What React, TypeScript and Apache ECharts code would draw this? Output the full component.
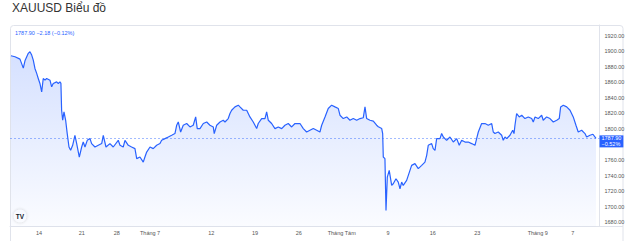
import React, { useEffect, useRef } from "react";
import * as echarts from "echarts";

// Trading-day index counted from Mon 14 June (weekends removed)
const tradingDay = [
  -3.2, -2.74, -2.17, -1.79, -1.6, -1.22, -1.03, -0.83, -0.65, -0.46, -0.26, -0.08, 0.11, 0.31, 0.49, 0.69, 0.88, 1.26, 1.45, 1.63,
  2.02, 2.21, 2.4, 2.51, 2.59, 2.71, 2.86, 3.05, 3.23, 3.43, 3.62, 3.85, 4.11, 4.31, 4.61, 4.88, 5.06, 5.26, 5.52, 5.83,
  6.02, 6.4, 6.78, 7.17, 7.35, 7.66, 8.11, 8.49, 9.06, 9.26, 9.63, 9.83, 10.21, 10.59, 10.97, 11.17, 11.54, 11.92, 12.11, 12.31,
  12.69, 13.06, 13.45, 13.83, 14.02, 14.4, 14.78, 15.17, 15.54, 15.74, 15.92, 16.19, 16.49, 16.88, 17.26, 17.63, 17.91, 18.09, 18.4, 18.78,
  19.17, 19.54, 19.92, 20.03, 20.31, 20.69, 21.06, 21.26, 21.63, 21.83, 22.02, 22.4, 22.78, 22.97, 23.35, 23.74, 24.11, 24.49, 24.88, 25.06,
  25.45, 25.83, 26.02, 26.21, 26.59, 26.97, 27.35, 27.74, 28.11, 28.49, 28.88, 29.26, 29.83, 30.21, 30.59, 30.97, 31.35, 31.74, 32.11, 32.31,
  32.69, 33.06, 33.45, 33.83, 34.21, 34.4, 34.78, 35.17, 35.54, 35.92, 36.31, 36.69, 37.06, 37.26, 37.45, 37.83, 38.21, 38.59, 38.78, 39.17,
  39.28, 39.35, 39.54, 39.66, 39.81, 40.03, 40.31, 40.49, 40.8, 41.06, 41.26, 41.45, 41.63, 42.02, 42.4, 42.59, 42.97, 43.35, 43.74, 44.11,
  44.31, 44.49, 44.88, 45.06, 45.26, 45.45, 45.83, 46.02, 46.21, 46.59, 46.97, 47.35, 47.74, 48.03, 48.31, 48.69, 49.06, 49.45, 49.83, 50.02,
  50.21, 50.59, 50.97, 51.35, 51.74, 51.92, 52.11, 52.49, 52.88, 53.06, 53.26, 53.45, 53.83, 54.14, 54.29, 54.4, 54.59, 54.89, 55.17, 55.54,
  55.92, 56.31, 56.49, 56.69, 57.06, 57.45, 57.63, 58.02, 58.4, 58.78, 59.17, 59.46, 59.62, 59.92, 60.31, 60.69, 61.06, 61.37, 61.63, 62.02,
  62.4, 62.59, 62.97, 63.31, 63.66,
];

const price = [
  1894.2, 1892.9, 1889.9, 1878.3, 1887.7, 1897.3, 1899.4, 1895.1, 1888.6, 1877.9, 1871.5, 1865.0, 1858.6, 1847.7, 1865.0, 1862.8, 1865.0, 1862.8, 1854.2, 1858.6,
  1860.6, 1858.6, 1860.6, 1858.6, 1824.1, 1811.2, 1821.9, 1811.2, 1794.1, 1776.8, 1772.5, 1779.0, 1791.9, 1781.2, 1763.9, 1776.8, 1783.2, 1776.8, 1785.4, 1787.6,
  1781.2, 1776.8, 1779.0, 1781.2, 1791.9, 1776.8, 1781.2, 1776.8, 1785.4, 1779.0, 1776.8, 1785.4, 1779.0, 1776.8, 1774.7, 1761.8, 1763.9, 1757.4, 1763.9, 1770.3,
  1776.8, 1774.7, 1779.0, 1781.2, 1785.4, 1787.6, 1789.7, 1791.9, 1794.1, 1804.8, 1809.0, 1796.1, 1804.8, 1807.0, 1802.6, 1804.8, 1815.5, 1800.5, 1800.5, 1807.0,
  1809.0, 1804.8, 1802.6, 1794.1, 1804.8, 1809.0, 1811.2, 1809.0, 1813.4, 1819.9, 1824.1, 1828.4, 1830.6, 1828.4, 1824.1, 1824.1, 1815.5, 1809.0, 1800.5, 1807.0,
  1813.4, 1813.4, 1821.9, 1811.2, 1807.0, 1800.5, 1802.6, 1800.5, 1804.8, 1807.0, 1802.6, 1807.0, 1807.0, 1800.5, 1796.1, 1798.3, 1800.5, 1798.3, 1796.1, 1804.8,
  1815.5, 1826.3, 1830.6, 1828.4, 1826.3, 1817.7, 1813.4, 1815.5, 1811.2, 1813.4, 1811.2, 1813.4, 1814.4, 1828.4, 1813.4, 1811.2, 1810.2, 1804.8, 1802.8, 1800.5,
  1794.1, 1763.9, 1761.8, 1695.1, 1738.1, 1746.7, 1727.4, 1729.5, 1736.0, 1731.6, 1723.1, 1731.6, 1727.4, 1733.8, 1746.7, 1753.2, 1755.4, 1748.9, 1753.2, 1757.4,
  1766.1, 1779.0, 1781.2, 1774.7, 1772.5, 1787.6, 1787.6, 1794.1, 1789.7, 1785.4, 1789.7, 1783.2, 1787.6, 1779.0, 1785.4, 1783.2, 1783.2, 1781.2, 1779.0, 1787.6,
  1796.1, 1807.0, 1807.0, 1804.8, 1807.0, 1796.1, 1794.1, 1796.1, 1791.9, 1785.4, 1789.7, 1787.6, 1791.9, 1798.3, 1794.1, 1804.8, 1819.9, 1815.5, 1817.7, 1813.4,
  1815.5, 1813.4, 1809.0, 1815.5, 1813.4, 1817.7, 1811.2, 1815.5, 1813.4, 1809.0, 1811.2, 1813.4, 1828.4, 1830.6, 1828.4, 1824.1, 1815.5, 1804.8, 1796.1, 1798.3,
  1794.1, 1789.7, 1791.9, 1793.2, 1788.0,
];

const xTickDays = [0, 4.9, 8.9, 12.7, 19.7, 24.7, 29.7, 34.6, 39.9, 45.0, 50.1, 57.0, 61.0];
const xTickLabels = ["14", "21", "28", "Tháng 7", "12", "19", "26", "Tháng Tám", "9", "16", "23", "Tháng 9", "7"];
const yTickValues = [1680, 1700, 1720, 1740, 1760, 1800, 1820, 1840, 1860, 1880, 1900, 1920];

const lastPrice = 1787.9;
const title = "XAUUSD Biểu đồ";
const headerText = "1787.90 −2.18 (−0.12%)";
const priceTagText = "1787.90\n−0.52%";

const FONT = "'Liberation Sans', Arial, sans-serif";

export default function App() {
  const ref = useRef<HTMLDivElement>(null);
  useEffect(() => {
    document.body.style.margin = "0";
    if (!ref.current) return;
    const chart = echarts.init(ref.current, undefined, { renderer: "svg" });
    const data = tradingDay.map((d, i) => [d, price[i]]);
    chart.setOption({
      animation: false,
      backgroundColor: "#ffffff",
      grid: { left: 10, top: 25, right: 30.5, bottom: 14.5, containLabel: false },
      xAxis: {
        type: "value",
        min: -3.31,
        max: 64.06,
        axisLine: { show: true, onZero: false, lineStyle: { color: "#e0e3eb", width: 1 } },
        axisTick: { show: false },
        splitLine: { show: false },
        axisLabel: {
          customValues: xTickDays,
          formatter: (v: number) => {
            const i = xTickDays.findIndex((d) => Math.abs(d - v) < 1e-6);
            return i >= 0 ? xTickLabels[i] : "";
          },
          fontSize: 5.5,
          color: "#555",
          fontFamily: FONT,
          margin: 3,
        },
      },
      yAxis: {
        type: "value",
        position: "right",
        min: 1674.5,
        max: 1933.8,
        axisLine: { show: true, onZero: false, lineStyle: { color: "#e0e3eb", width: 1 } },
        axisTick: { show: false },
        splitLine: { show: false },
        axisLabel: {
          customValues: yTickValues,
          formatter: (v: number) => v.toFixed(2),
          fontSize: 5.5,
          color: "#555",
          fontFamily: FONT,
          margin: 5,
        },
      },
      series: [
        {
          type: "line",
          data,
          showSymbol: false,
          symbol: "none",
          lineStyle: { color: "#2962ff", width: 1.2 },
          areaStyle: {
            color: new echarts.graphic.LinearGradient(0, 0, 0, 1, [
              { offset: 0, color: "rgba(41,98,255,0.28)" },
              { offset: 1, color: "rgba(41,98,255,0.03)" },
            ]),
          },
          markLine: {
            silent: true,
            symbol: "none",
            lineStyle: { color: "rgba(41,98,255,0.55)", type: [2, 2], width: 0.8 },
            data: [{ yAxis: lastPrice }],
            label: {
              show: true,
              position: "end",
              distance: 0,
              formatter: priceTagText,
              backgroundColor: "#2962ff",
              color: "#ffffff",
              fontSize: 5.5,
              lineHeight: 6,
              fontFamily: FONT,
              padding: [0, 2, 0, 2],
              offset: [0, 3],
            },
          },
        },
      ],
      graphic: [
        {
          type: "text",
          left: 12,
          top: 2,
          style: { text: title, fontSize: 12, fill: "#333", fontFamily: FONT },
        },
        {
          type: "rect",
          shape: { x: 10.5, y: 25.5, width: 612.5, height: 230, r: 3 },
          style: { fill: "none", stroke: "#e0e3eb", lineWidth: 1 },
          silent: true,
        },
        {
          type: "line",
          shape: { x1: 10, y1: 226.5, x2: 623, y2: 226.5 },
          style: { stroke: "#e0e3eb", lineWidth: 1 },
          silent: true,
        },
        {
          type: "text",
          x: 15,
          y: 30,
          style: { text: headerText, fontSize: 5.5, fill: "#2962ff", fontFamily: FONT },
        },
        {
          type: "circle",
          shape: { cx: 20, cy: 216, r: 7 },
          style: { fill: "#ffffff", stroke: "#eeeeee", lineWidth: 0.8, shadowBlur: 2, shadowColor: "rgba(0,0,0,0.1)" },
        },
        {
          type: "text",
          x: 20,
          y: 216,
          style: {
            text: "TV",
            fontSize: 6.5,
            fontWeight: "bold",
            fill: "#131722",
            fontFamily: FONT,
            align: "center",
            verticalAlign: "middle",
          },
        },
      ],
    });
    return () => chart.dispose();
  }, []);
  return <div ref={ref} style={{ position: "absolute", left: 0, top: 0, width: 630, height: 241 }} />;
}
